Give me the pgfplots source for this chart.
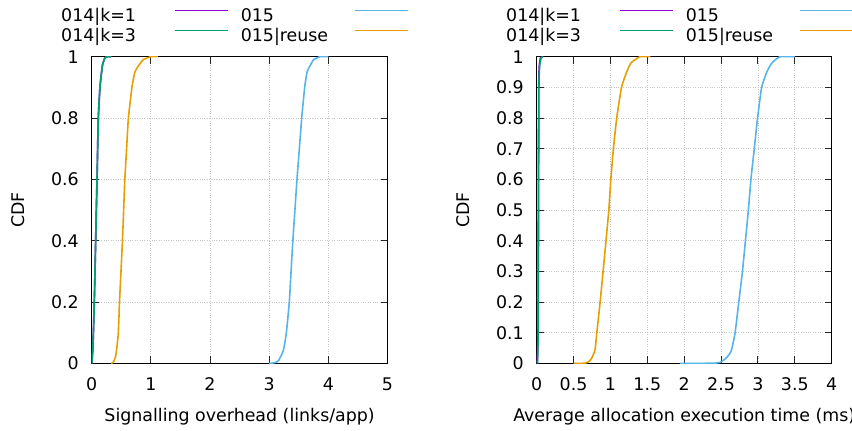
\documentclass[border=0pt]{standalone}
\usepackage{fontspec}
\setmainfont{DejaVu Sans}
\usepackage{pgfplots}
\pgfplotsset{compat=1.18}

\definecolor{cpurple}{HTML}{9400D3}
\definecolor{cgreen}{HTML}{009E73}
\definecolor{cblue}{HTML}{56B4E9}
\definecolor{corange}{HTML}{E69F00}

\newcommand{\fs}{\fontsize{17.4}{20}\selectfont}

\pgfplotsset{
  gp/.style={
    scale only axis, width=295.8pt, height=306.8pt,
    ymin=0, ymax=1,
    axis line style={line width=1pt, black},
    tick style={line width=1pt, black!85},
    tick align=inside,
    major tick length=7pt,
    grid=major,
    major grid style={dotted, line width=0.9pt, gray!45},
    tick label style={font=\fs},
    label style={font=\fs},
    /pgf/number format/assume math mode=true,
    xticklabel style={yshift=-8pt},
    yticklabel style={xshift=-7pt},
    every axis x label/.style={at={(axis description cs:0.5,0)}, anchor=base, yshift=-58.2pt},
    every axis y label/.style={at={(axis description cs:0,0.5)}, rotate=90, anchor=center, yshift=73.7pt},
    legend columns=2,
    legend plot pos=right,
    legend cell align=left,
    legend image code/.code={\draw[##1, line width=1.6pt] (0pt,6.5pt) -- (53pt,6.5pt); \path (65pt,0pt);},
    legend style={at={(axis description cs:0,1)}, anchor=north west, xshift=-30.7pt, yshift=49.7pt, draw=none, fill=none, inner sep=0pt, font=\fs, column sep=0pt, row sep=0pt, nodes={inner sep=0pt, text height=14pt, text depth=6pt}},
  }
}

\begin{document}
\fs
\begin{tikzpicture}
\useasboundingbox (0pt,0pt) rectangle (852pt,431pt);

% ---------- left panel ----------
\begin{axis}[gp,
  at={(91.7pt,67.5pt)}, anchor=south west,
  xmin=0, xmax=5, xtick={0,1,2,3,4,5},
  ytick={0,0.2,0.4,0.6,0.8,1},
  xlabel={Signalling overhead (links/app)},
  ylabel={CDF},
]
\addplot[cpurple, line width=1.6pt, smooth, tension=0.3] coordinates {
 (0,0) (0.02,0.05) (0.044,0.2) (0.067,0.4) (0.09,0.6) (0.112,0.8) (0.14,0.9) (0.18,0.97) (0.22,0.995) (0.25,1) (0.33,1)};
\addlegendentry{\makebox[113pt][l]{014|k=1}}
\addplot[cblue, line width=1.6pt, smooth, tension=0.3] coordinates {
 (3.0,0) (3.1,0.003) (3.16,0.01) (3.24,0.043) (3.29,0.1) (3.34,0.2) (3.37,0.3) (3.40,0.4) (3.435,0.5) (3.47,0.6) (3.51,0.7) (3.55,0.8) (3.60,0.9) (3.64,0.95) (3.69,0.97) (3.75,0.99) (3.86,1) (4.0,1)};
\addlegendentry{\makebox[113pt][l]{015}}
\addplot[cgreen, line width=1.7pt, smooth, tension=0.3] coordinates {
 (0,0) (0.02,0.05) (0.044,0.2) (0.067,0.4) (0.09,0.6) (0.112,0.8) (0.14,0.9) (0.18,0.97) (0.22,0.995) (0.25,1) (0.33,1)};
\addlegendentry{\makebox[113pt][l]{014|k=3}}
\addplot[corange, line width=1.6pt, smooth, tension=0.3] coordinates {
 (0.33,0) (0.37,0.005) (0.40,0.02) (0.42,0.043) (0.45,0.1) (0.47,0.2) (0.495,0.3) (0.52,0.4) (0.54,0.5) (0.56,0.6) (0.59,0.7) (0.62,0.8) (0.68,0.9) (0.73,0.95) (0.79,0.97) (0.87,0.99) (1.0,1) (1.12,1)};
\addlegendentry{\makebox[113pt][l]{015|reuse}}
\end{axis}

% ---------- right panel ----------
\begin{axis}[gp,
  at={(536.7pt,67.5pt)}, anchor=south west,
  width=295pt,
  xmin=0, xmax=4, xtick={0,0.5,1,1.5,2,2.5,3,3.5,4},
  ytick={0,0.1,0.2,0.3,0.4,0.5,0.6,0.7,0.8,0.9,1},
  xlabel={Average allocation execution time (ms)},
  ylabel={CDF},
]
\addplot[cpurple, line width=1.6pt, smooth, tension=0.3] coordinates {
 (0.008,0) (0.018,0.1) (0.022,0.5) (0.027,0.9) (0.035,0.97) (0.05,0.995) (0.08,1)};
\addlegendentry{\makebox[113pt][l]{014|k=1}}
\addplot[cblue, line width=1.6pt, smooth, tension=0.3] coordinates {
 (1.94,0) (2.4,0.001) (2.49,0.004) (2.58,0.02) (2.64,0.043) (2.69,0.1) (2.74,0.2) (2.79,0.3) (2.83,0.4) (2.87,0.5) (2.905,0.6) (2.95,0.7) (2.995,0.8) (3.05,0.9) (3.12,0.95) (3.19,0.98) (3.30,1) (3.50,1)};
\addlegendentry{\makebox[113pt][l]{015}}
\addplot[cgreen, line width=1.6pt, smooth, tension=0.3] coordinates {
 (0.01,0) (0.02,0.1) (0.025,0.5) (0.03,0.9) (0.04,0.97) (0.06,0.995) (0.085,1)};
\addlegendentry{\makebox[113pt][l]{014|k=3}}
\addplot[corange, line width=1.6pt, smooth, tension=0.3] coordinates {
 (0.5,0) (0.65,0.001) (0.70,0.005) (0.74,0.015) (0.79,0.043) (0.815,0.1) (0.86,0.2) (0.90,0.3) (0.94,0.4) (0.978,0.5) (1.005,0.6) (1.04,0.7) (1.085,0.8) (1.15,0.9) (1.22,0.95) (1.28,0.98) (1.40,1) (1.54,1)};
\addlegendentry{\makebox[113pt][l]{015|reuse}}
\end{axis}
\end{tikzpicture}
\end{document}
